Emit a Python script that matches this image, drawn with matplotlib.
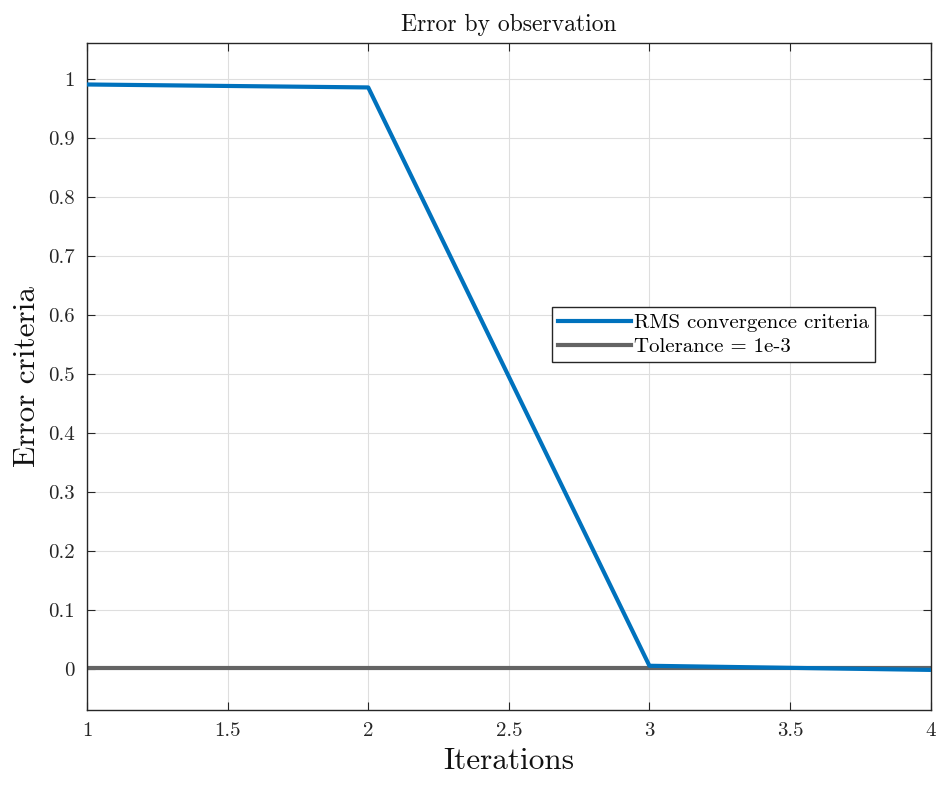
import matplotlib
matplotlib.use("Agg")
import matplotlib.pyplot as plt

# font setup to look like MATLAB latex output
plt.rcParams['font.family'] = 'serif'
plt.rcParams['font.serif'] = ['cmr10', 'DejaVu Serif']
plt.rcParams['mathtext.fontset'] = 'cm'
plt.rcParams['axes.formatter.use_mathtext'] = True

# data
iterations = [1, 2, 3, 4]
rms_error = [0.99, 0.985, 0.005, -0.002]
tolerance = [0.001, 0.001, 0.001, 0.001]

xticks = [1, 1.5, 2, 2.5, 3, 3.5, 4]
xtick_labels = ['1', '1.5', '2', '2.5', '3', '3.5', '4']
yticks = [0, 0.1, 0.2, 0.3, 0.4, 0.5, 0.6, 0.7, 0.8, 0.9, 1]
ytick_labels = ['0', '0.1', '0.2', '0.3', '0.4', '0.5', '0.6', '0.7', '0.8', '0.9', '1']

fig = plt.figure(figsize=(9.4, 7.85), dpi=100)
ax = fig.add_axes([0.0926, 0.0955, 0.8974, 0.8495])

ax.plot(iterations, rms_error, color='#0072BD', linewidth=3, label='RMS convergence criteria', zorder=3)
ax.plot(iterations, tolerance, color='#646464', linewidth=3, label='Tolerance = 1e-3', zorder=2)

ax.set_xlim(1, 4)
ax.set_ylim(-0.07, 1.06)
ax.set_xticks(xticks)
ax.set_xticklabels(xtick_labels)
ax.set_yticks(yticks)
ax.set_yticklabels(ytick_labels)
ax.tick_params(direction='in', length=6, labelsize=15, colors='#262626', pad=9,
               top=True, right=True)
ax.grid(True, color='#dedede', linewidth=0.8)
ax.set_axisbelow(True)
for s in ax.spines.values():
    s.set_color('#262626')
    s.set_linewidth(1.0)

ax.set_title('Error by observation', fontsize=17, color='#111111', pad=9)
ax.set_xlabel('Iterations', fontsize=22.5, color='#111111', labelpad=5)
ax.set_ylabel('Error criteria', fontsize=22.5, color='#111111', labelpad=5)

leg = ax.legend(loc='upper left', bbox_to_anchor=(0.551, 0.604), fontsize=15,
                fancybox=False, framealpha=1, edgecolor='#262626',
                handlelength=3.5, handletextpad=0.15, borderpad=0.3, labelspacing=0.25,
                borderaxespad=0)
leg.get_frame().set_linewidth(1.0)

fig.savefig('out.png', dpi=100)
